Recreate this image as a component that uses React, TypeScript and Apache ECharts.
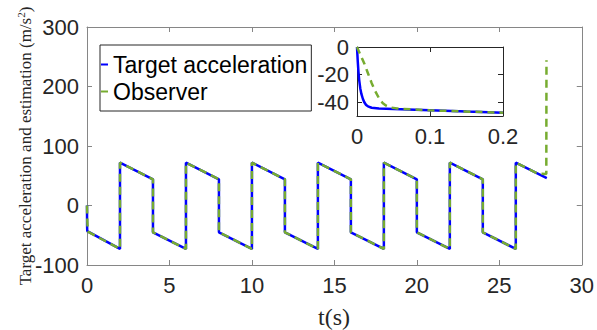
import React, { useEffect, useRef } from "react";
import * as echarts from "echarts";

// Main plot: target acceleration (piecewise, jumps every 2 s)
const targetT = [0, 0.005, 0.015, 2, 2, 4, 4, 6, 6, 8, 8, 10, 10, 12, 12, 14, 14, 16, 16, 18, 18, 20, 20, 22, 22, 24, 24, 26, 26, 27.88];
const targetV = [0, -33, -43, -73, 72, 44, -45, -73, 72, 44, -45, -73, 72, 44, -45, -73, 72, 44, -45, -73, 72, 44, -45, -73, 72, 44, -45, -73, 72, 46];

// Main plot: observer estimate
const obsT = [0, 0.02, 0.05, 2, 2, 4, 4, 6, 6, 8, 8, 10, 10, 12, 12, 14, 14, 16, 16, 18, 18, 20, 20, 22, 22, 24, 24, 26, 26, 27.3, 27.85, 27.86];
const obsV = [0, -26, -44, -73, 72, 44, -45, -73, 72, 44, -45, -73, 72, 44, -45, -73, 72, 44, -45, -73, 72, 44, -45, -73, 72, 44, -45, -73, 72, 54, 53, 244];

// Inset (zoom on 0 - 0.2 s)
const insetTargetT = [0, 0.001, 0.002, 0.003, 0.0045, 0.006, 0.008, 0.01, 0.0125, 0.015, 0.02, 0.03, 0.05, 0.1, 0.15, 0.2];
const insetTargetV = [0, -10, -18, -24, -30, -34, -37.5, -40, -42, -43, -44, -44.6, -45, -45.9, -46.8, -47.6];
const insetObsT = [0, 0.005, 0.01, 0.015, 0.02, 0.025, 0.03, 0.035, 0.04, 0.046, 0.055, 0.1, 0.2];
const insetObsV = [0, -6, -12, -19, -26, -32, -37, -40.5, -42.5, -43.8, -44.6, -45.9, -47.6];

const xTicksMain = { min: 0, max: 30, interval: 5 };
const yTicksMain = { min: -100, max: 300, interval: 100 };
const xTicksInset = { min: 0, max: 0.2, interval: 0.1 };
const yInsetLabels = [-40, -20, 0];

const zip = (t: number[], v: number[]) => t.map((x, i) => [x, v[i]]);

const BLUE = "#0000ff";
const GREEN = "#77ac30";
const SANS = "'Liberation Sans', Arial, Helvetica, sans-serif";
const SERIF = "'Liberation Serif', 'Times New Roman', serif";
const MAIN_AXIS = "#868686";
const INSET_AXIS = "#262626";
const LABEL = "#262626";

function axisX(gridIndex: number, pos: "bottom" | "top", ticks: any, color: string, showLabel: boolean) {
  return {
    type: "value",
    gridIndex,
    position: pos,
    ...ticks,
    axisLine: { show: true, onZero: false, lineStyle: { color, width: 1 } },
    axisTick: { show: true, inside: true, length: 5, lineStyle: { color, width: 1 } },
    axisLabel: {
      show: showLabel,
      fontSize: 22,
      fontFamily: SANS,
      color: LABEL,
      margin: 9,
      formatter: (v: number) => String(Math.round(v * 1000) / 1000),
    },
    splitLine: { show: false },
  };
}

function axisY(gridIndex: number, pos: "left" | "right", ticks: any, color: string, showLabel: boolean, custom?: number[]) {
  return {
    type: "value",
    gridIndex,
    position: pos,
    ...ticks,
    axisLine: { show: true, onZero: false, lineStyle: { color, width: 1 } },
    axisTick: {
      show: true,
      inside: true,
      length: 5,
      lineStyle: { color, width: 1 },
      ...(custom ? { customValues: custom } : {}),
    },
    axisLabel: {
      show: showLabel,
      fontSize: 22,
      fontFamily: SANS,
      color: LABEL,
      margin: 8,
      ...(custom ? { customValues: custom } : {}),
    },
    splitLine: { show: false },
  };
}

export default function App() {
  const ref = useRef<HTMLDivElement>(null);
  useEffect(() => {
    if (!ref.current) return;
    const chart = echarts.init(ref.current, undefined, { renderer: "svg" });
    chart.setOption({
      animation: false,
      backgroundColor: "#ffffff",
      grid: [
        { left: 87, top: 27, width: 499, height: 238, show: false },
        { left: 357, top: 47, width: 146, height: 69, show: true, backgroundColor: "#ffffff", borderWidth: 0, z: 5 },
      ],
      xAxis: [
        axisX(0, "bottom", xTicksMain, MAIN_AXIS, true),
        axisX(0, "top", xTicksMain, MAIN_AXIS, false),
        { ...axisX(1, "bottom", xTicksInset, INSET_AXIS, true), z: 6 },
        { ...axisX(1, "top", xTicksInset, INSET_AXIS, false), z: 6 },
      ],
      yAxis: [
        axisY(0, "left", yTicksMain, MAIN_AXIS, true),
        axisY(0, "right", yTicksMain, MAIN_AXIS, false),
        { ...axisY(1, "left", { min: -50, max: 0 }, INSET_AXIS, true, yInsetLabels), z: 6 },
        { ...axisY(1, "right", { min: -50, max: 0 }, INSET_AXIS, false, yInsetLabels), z: 6 },
      ],
      legend: {
        orient: "vertical",
        left: 100,
        top: 45,
        padding: [6, 4, 6, 1],
        itemGap: 0,
        itemWidth: 7,
        itemHeight: 2,
        icon: "rect",
        backgroundColor: "#ffffff",
        borderColor: "#262626",
        borderWidth: 1,
        textStyle: { fontSize: 23, fontFamily: SANS, color: "#000000", lineHeight: 27 },
        data: [
          { name: "Target acceleration", itemStyle: { color: BLUE }, lineStyle: { type: "solid" } },
          { name: "Observer", itemStyle: { color: GREEN }, lineStyle: { type: "solid" } },
        ],
        z: 10,
      },
      series: [
        {
          name: "Target acceleration",
          type: "line",
          xAxisIndex: 0,
          yAxisIndex: 0,
          data: zip(targetT, targetV),
          showSymbol: false,
          symbol: "none",
          lineStyle: { color: BLUE, width: 2.5 },
          itemStyle: { color: BLUE },
          z: 2,
        },
        {
          name: "Observer",
          type: "line",
          xAxisIndex: 0,
          yAxisIndex: 0,
          data: zip(obsT, obsV),
          showSymbol: false,
          symbol: "none",
          lineStyle: { color: GREEN, width: 2.5, type: [8, 5] },
          itemStyle: { color: GREEN },
          z: 3,
        },
        {
          name: "Target acceleration",
          type: "line",
          xAxisIndex: 2,
          yAxisIndex: 2,
          data: zip(insetTargetT, insetTargetV),
          showSymbol: false,
          symbol: "none",
          lineStyle: { color: BLUE, width: 2.5 },
          itemStyle: { color: BLUE },
          z: 7,
        },
        {
          name: "Observer",
          type: "line",
          xAxisIndex: 2,
          yAxisIndex: 2,
          data: zip(insetObsT, insetObsV),
          showSymbol: false,
          symbol: "none",
          lineStyle: { color: GREEN, width: 2.5, type: [7, 5] },
          itemStyle: { color: GREEN },
          z: 8,
        },
      ],
      graphic: [
        {
          type: "text",
          x: 25,
          y: 146,
          rotation: Math.PI / 2,
          style: {
            text: "{a|Target acceleration and estimation (m/s}{s|2}{a|)}",
            textAlign: "center",
            textVerticalAlign: "middle",
            fill: "#262626",
            rich: {
              a: { fontFamily: SERIF, fontSize: 17, fill: "#262626", lineHeight: 20 },
              s: { fontFamily: SERIF, fontSize: 11, fill: "#262626", verticalAlign: "top", lineHeight: 20 },
            },
          },
        },
        {
          type: "text",
          x: 334,
          y: 317,
          style: {
            text: "t(s)",
            textAlign: "center",
            textVerticalAlign: "middle",
            fontFamily: SERIF,
            fontSize: 24,
            fill: "#262626",
          },
        },
      ],
    });
    return () => chart.dispose();
  }, []);
  return <div ref={ref} style={{ position: "fixed", left: 0, top: 0, width: 597, height: 330 }} />;
}
